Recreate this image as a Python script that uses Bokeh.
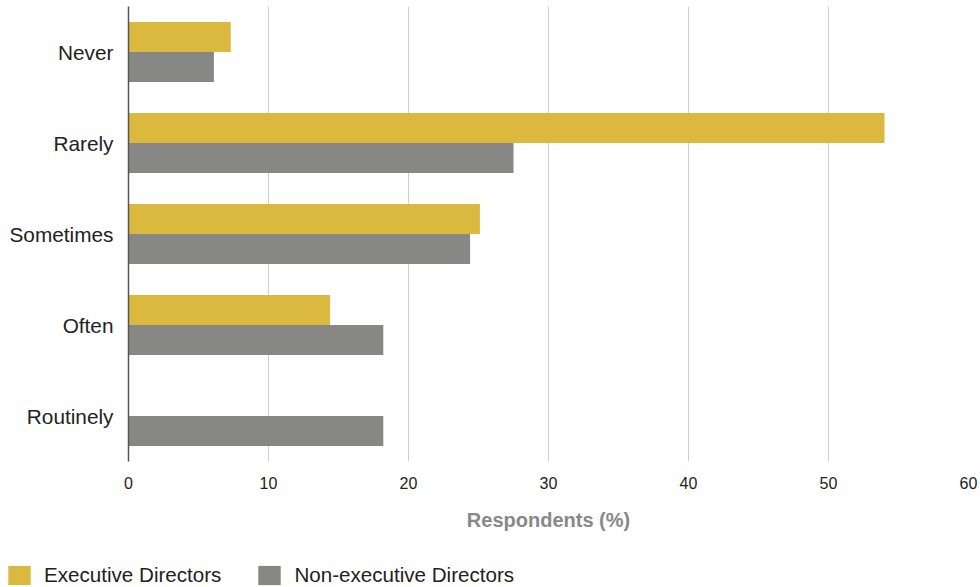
from bokeh.plotting import figure
from bokeh.layouts import column, row
from bokeh.models import FactorRange, Range1d, Legend, LegendItem, ColumnDataSource, FixedTicker
from bokeh.transform import dodge
from bokeh.embed import file_html
from bokeh.resources import INLINE

categories = ["Never", "Rarely", "Sometimes", "Often", "Routinely"]
executive = [7.3, 54.0, 25.1, 14.4, 0.0]
non_executive = [6.1, 27.5, 24.4, 18.2, 18.2]
x_ticks = [0, 10, 20, 30, 40, 50, 60]
series_labels = ["Executive Directors", "Non-executive Directors"]

FONT = "Liberation Sans"
YELLOW = "#DBB93F"
GREY = "#878785"

src = ColumnDataSource(dict(cat=categories, exe=executive, non=non_executive))

p = figure(
    width=980, height=555,
    y_range=FactorRange(factors=categories[::-1], range_padding=0),
    x_range=Range1d(0, 60),
    output_backend="svg", toolbar_location=None,
    min_border_left=128, min_border_right=12, min_border_top=6, min_border_bottom=94,
)
p.outline_line_color = None

r1 = p.hbar(y=dodge("cat", 0.165, range=p.y_range), left=0, right="exe", height=0.33,
            source=src, fill_color=YELLOW, line_color=None)
r2 = p.hbar(y=dodge("cat", -0.165, range=p.y_range), left=0, right="non", height=0.33,
            source=src, fill_color=GREY, line_color=None)

p.ygrid.grid_line_color = None
p.xgrid.grid_line_color = "#CFCFCF"
p.xgrid.grid_line_width = 1
p.xaxis.ticker = FixedTicker(ticks=x_ticks)

p.xaxis.axis_line_color = None
p.xaxis.major_tick_line_color = None
p.xaxis.minor_tick_line_color = None
p.xaxis.major_label_text_font = FONT
p.xaxis.major_label_text_font_size = "16px"
p.xaxis.major_label_text_color = "#222222"
p.xaxis.major_label_standoff = 9
p.xaxis.axis_label = "Respondents (%)"
p.xaxis.axis_label_text_font = FONT
p.xaxis.axis_label_text_font_style = "bold"
p.xaxis.axis_label_text_font_size = "20px"
p.xaxis.axis_label_text_color = "#888888"
p.xaxis.axis_label_standoff = 17

p.yaxis.axis_line_color = "#555555"
p.yaxis.axis_line_width = 1.5
p.yaxis.major_tick_line_color = None
p.yaxis.minor_tick_line_color = None
p.yaxis.major_label_text_font = FONT
p.yaxis.major_label_text_font_size = "20.8px"
p.yaxis.major_label_text_color = "#222222"
p.yaxis.major_label_standoff = 9

# Legend strip below the chart
lf = figure(width=980, height=32, x_range=Range1d(0, 1), y_range=Range1d(0, 1),
            x_axis_type=None, y_axis_type=None, output_backend="svg", toolbar_location=None,
            min_border=0)
lf.outline_line_color = None
lf.grid.visible = False
lsrc = ColumnDataSource(dict(y=[-5], l=[0], r=[0]))
l1 = lf.hbar(y="y", left="l", right="r", height=1, source=lsrc, fill_color=YELLOW, line_color=None)
l2 = lf.hbar(y="y", left="l", right="r", height=1, source=lsrc, fill_color=GREY, line_color=None)

legend = Legend(
    items=[LegendItem(label=series_labels[0], renderers=[l1]),
           LegendItem(label=series_labels[1], renderers=[l2])],
    location=(5, 0), orientation="horizontal",
    glyph_width=28, glyph_height=24, label_height=24,
    label_standoff=11, spacing=34, padding=0, margin=0,
    border_line_color=None, background_fill_alpha=0,
    label_text_font=FONT, label_text_font_size="20.6px", label_text_color="#222222",
)
lf.add_layout(legend, "center")

open("out.html", "w").write(file_html(column(p, row(lf), spacing=0), INLINE))
